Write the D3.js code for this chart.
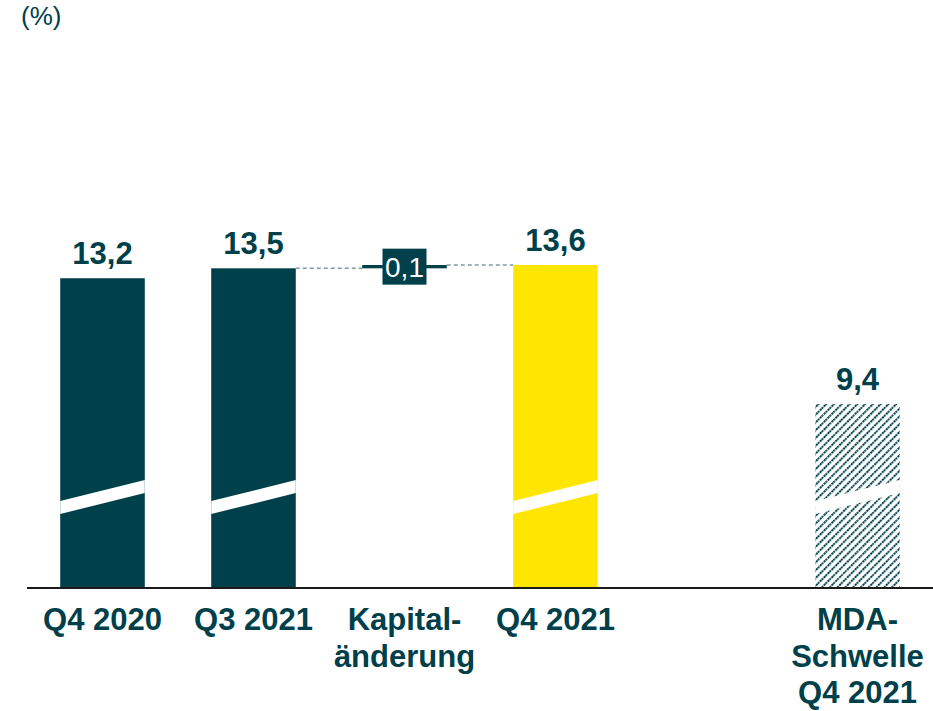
<!DOCTYPE html>
<html lang="de">
    <head>
        <meta charset="utf-8">
        <title>Kapitalquote</title>
        <script type="text/javascript" src="https://d3js.org/d3.v7.min.js"></script>
        <style>
            body { margin: 0; background: #fff; }
            svg text { font-family: "Liberation Sans", Arial, sans-serif; fill: #00404b; }
            .value { font-size: 31px; font-weight: bold; }
            .cat { font-size: 31px; font-weight: bold; }
            .unit { font-size: 26px; }
            .connector { stroke: #7d9ca2; stroke-width: 1.5; stroke-dasharray: 4,3; }
        </style>
    </head>
    <body>
        <svg id="chart" width="933" height="711"></svg>
    </body>
    <script>
        // band slots (one empty slot before the MDA bar)
        let slots = ["Q4 2020", "Q3 2021", "Kapitaländerung", "Q4 2021", "gap", "MDA"];
        let categories = ["Q4 2020", "Q3 2021", "Kapitaländerung", "Q4 2021", "MDA"];
        let labelLines = [["Q4 2020"], ["Q3 2021"], ["Kapital-", "änderung"], ["Q4 2021"], ["MDA-", "Schwelle", "Q4 2021"]];
        let values = [13.2, 13.5, 0.1, 13.6, 9.4];
        let kinds = ["total", "total", "delta", "total", "threshold"];
        let fills = ["#00404b", "#00404b", "#00404b", "#ffe600", "url(#hatch)"];

        let svg = d3.select("#chart");
        let baseY = 588;

        let x = d3.scaleBand()
                  .domain(slots)
                  .range([27, 933])
                  .paddingInner(0.44)
                  .paddingOuter(0.22);

        // broken axis: the scale does not start at zero
        let y = d3.scaleLinear()
                  .domain([3.84, 13.6])
                  .range([baseY, 265]);

        let fmt = v => d3.format(".1f")(v).replace(".", ",");

        // hatch pattern for the threshold bar
        let defs = svg.append("defs");
        defs.append("pattern")
            .attr("id", "hatch")
            .attr("patternUnits", "userSpaceOnUse")
            .attr("width", 5.5)
            .attr("height", 5.5)
            .attr("patternTransform", "rotate(45)")
            .append("line")
            .attr("x1", 1).attr("y1", 0)
            .attr("x2", 1).attr("y2", 5.5)
            .attr("stroke", "#00404b")
            .attr("stroke-width", 2)
            .attr("stroke-dasharray", "2,1");

        let data = categories.map((c, i) => ({
            cat: c, value: values[i], kind: kinds[i], fill: fills[i], lines: labelLines[i]
        }));

        // running level for the waterfall
        let level = 0;
        data.forEach(d => {
            if (d.kind == "delta") {
                d.y0 = level; d.y1 = level + d.value; level = d.y1;
            } else {
                d.y0 = y.domain()[0]; d.y1 = d.value; level = d.value;
            }
        });

        let bars = data.filter(d => d.kind != "delta");
        let delta = data.filter(d => d.kind == "delta");

        svg.append("g")
            .selectAll("rect")
            .data(bars)
            .enter()
            .append("rect")
            .attr("x", d => x(d.cat))
            .attr("y", d => y(d.y1))
            .attr("width", x.bandwidth())
            .attr("height", d => y(d.y0) - y(d.y1))
            .attr("fill", d => d.fill);

        // axis break marks
        svg.append("g")
            .selectAll("polygon")
            .data(bars)
            .enter()
            .append("polygon")
            .attr("fill", "#fff")
            .attr("points", d => {
                let x0 = x(d.cat), x1 = x(d.cat) + x.bandwidth();
                return [[x0, baseY - 87], [x1, baseY - 108], [x1, baseY - 95], [x0, baseY - 74]].join(" ");
            });

        // connectors
        let prev = data[1], dl = delta[0], next = data[3];
        svg.append("line").attr("class", "connector")
            .attr("x1", x(prev.cat) + x.bandwidth()).attr("x2", x(dl.cat))
            .attr("y1", y(prev.y1)).attr("y2", y(prev.y1));
        svg.append("line").attr("class", "connector")
            .attr("x1", x(dl.cat) + x.bandwidth()).attr("x2", x(next.cat))
            .attr("y1", y(dl.y1)).attr("y2", y(dl.y1));

        // delta bar with label box
        let dg = svg.append("g").selectAll("g").data(delta).enter().append("g");
        dg.append("rect")
            .attr("x", d => x(d.cat))
            .attr("y", d => y(d.y1))
            .attr("width", x.bandwidth())
            .attr("height", d => Math.max(3, y(d.y0) - y(d.y1)))
            .attr("fill", d => d.fill);
        dg.append("rect")
            .attr("x", d => x(d.cat) + x.bandwidth() / 2 - 22)
            .attr("y", d => (y(d.y0) + y(d.y1)) / 2 - 18)
            .attr("width", 44)
            .attr("height", 36)
            .attr("fill", d => d.fill);
        dg.append("text")
            .attr("x", d => x(d.cat) + x.bandwidth() / 2)
            .attr("y", d => (y(d.y0) + y(d.y1)) / 2 + 10)
            .attr("text-anchor", "middle")
            .style("font-size", "28px")
            .style("fill", "#fff")
            .text(d => fmt(d.value));

        // value labels
        svg.append("g")
            .selectAll("text")
            .data(bars)
            .enter()
            .append("text")
            .attr("class", "value")
            .attr("x", d => x(d.cat) + x.bandwidth() / 2)
            .attr("y", d => y(d.y1) - 14)
            .attr("text-anchor", "middle")
            .text(d => fmt(d.value));

        // baseline
        svg.append("line")
            .attr("x1", 27).attr("x2", 933)
            .attr("y1", baseY).attr("y2", baseY)
            .attr("stroke", "#1a1a1a")
            .attr("stroke-width", 2);

        // category labels
        let cats = svg.append("g")
            .selectAll("text")
            .data(data)
            .enter()
            .append("text")
            .attr("class", "cat")
            .attr("text-anchor", "middle")
            .attr("x", d => x(d.cat) + x.bandwidth() / 2)
            .attr("y", 630);
        cats.selectAll("tspan")
            .data(d => d.lines.map(l => ({ l: l, cx: x(d.cat) + x.bandwidth() / 2 })))
            .enter()
            .append("tspan")
            .attr("x", t => t.cx)
            .attr("dy", (t, i) => i == 0 ? 0 : 36.5)
            .text(t => t.l);

        svg.append("text")
            .attr("class", "unit")
            .attr("x", 21)
            .attr("y", 25)
            .text("(%)");
    </script>
</html>
